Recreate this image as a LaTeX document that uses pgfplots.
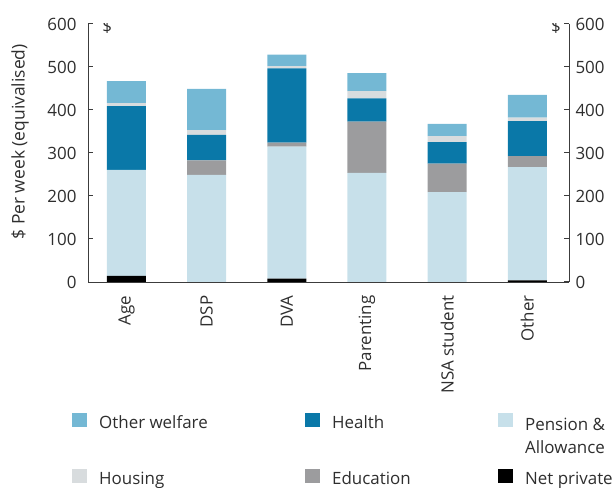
\documentclass[border=0pt]{standalone}
\usepackage{pgfplots}
\usepackage{pgfplotstable}
\pgfplotsset{compat=1.18}
\usepackage{fontspec}
\setmainfont{Open Sans}
\definecolor{cOther}{HTML}{74B8D4}
\definecolor{cHealth}{HTML}{0A78A8}
\definecolor{cPension}{HTML}{C7E0EA}
\definecolor{cHousing}{HTML}{D8DCDE}
\definecolor{cEdu}{HTML}{9C9C9E}
\definecolor{cNet}{HTML}{000000}
\definecolor{cAxis}{HTML}{3C3C3C}
\definecolor{cText}{HTML}{2E2E2E}

% x: 0 Age, 1 DSP, 2 DVA, 3 Parenting, 4 NSA student, 5 Other
\pgfplotstableread{
x net pension edu health housing other
0 14 247 0 148 7 51
1 0 249 34 59 11 96
2 8 307 9 173 5 27
3 0 254 119 54 17 42
4 0 209 66 50 14 29
5 4 263 26 81 8 53
}\data

\newcommand{\fs}{\fontsize{17}{23}\selectfont}

\pgfplotsset{
  sq/.style={legend image code/.code={\fill[##1, draw=none] (0bp,-4bp) rectangle (15bp,10bp);}},
  common/.style={
    at={(88bp,206bp)}, anchor=south west,
    scale only axis, width=481bp, height=258bp,
    xmin=-0.48, xmax=5.52, ymin=0, ymax=600,
    ytick={0,100,...,600},
    tick align=inside,
    major tick length=5bp,
    axis line style={cAxis, line width=1bp},
    every tick/.style={cAxis, line width=1bp},
    tick label style={font=\fs, text=cText},
    /pgf/number format/assume math mode=true,
  }
}

\begin{document}
\begin{tikzpicture}
\path[use as bounding box] (0,0) rectangle (615bp,488bp);
\begin{axis}[
  common,
  ybar stacked, bar width=39bp,
  axis x line*=bottom, axis y line*=left,
  xtick={0,...,5},
  xticklabels={Age,DSP,DVA,Parenting,NSA student,Other},
  xticklabel style={rotate=90, anchor=east},
  xticklabel shift=10bp,
  yticklabel style={xshift=-8bp},
  major x tick style={draw=none},
  ylabel={\$ Per week (equivalised)},
  every axis y label/.style={at={(axis description cs:-0.141,0.543)}, rotate=90, anchor=center, font=\fontsize{17.5}{21}\selectfont, text=cText},
  legend columns=3,
  legend style={at={(axis description cs:-0.0395,-0.4964)}, anchor=north west,
    draw=none, fill=none, font=\fs, text=cText, row sep=35bp,
    /tikz/every odd column/.append style={column sep=10bp},
    /tikz/every even column/.append style={column sep=0bp}},
  legend cell align=left,
]
\addlegendimage{sq, fill=cOther}
\addlegendentry{\makebox[204bp][l]{Other welfare}}
\addlegendimage{sq, fill=cHealth}
\addlegendentry{\makebox[164bp][l]{Health}}
\addlegendimage{sq, fill=cPension}
\addlegendentry{\raisebox{0pt}[\height][0pt]{\begin{tabular}[t]{@{}l@{}}Pension \&\\Allowance\end{tabular}}}
\addlegendimage{sq, fill=cHousing}
\addlegendentry{Housing}
\addlegendimage{sq, fill=cEdu}
\addlegendentry{Education}
\addlegendimage{sq, fill=cNet}
\addlegendentry{Net private}

\addplot[forget plot, fill=cNet, draw=none] table[x=x, y=net] {\data};
\addplot[forget plot, fill=cPension, draw=none] table[x=x, y=pension] {\data};
\addplot[forget plot, fill=cEdu, draw=none] table[x=x, y=edu] {\data};
\addplot[forget plot, fill=cHealth, draw=none] table[x=x, y=health] {\data};
\addplot[forget plot, fill=cHousing, draw=none] table[x=x, y=housing] {\data};
\addplot[forget plot, fill=cOther, draw=none] table[x=x, y=other] {\data};

\node[font=\fs, text=cText] at (rel axis cs:0.04,0.99) {\$};
\node[font=\fs, text=cText] at (rel axis cs:0.973,0.99) {\$};
\end{axis}
\begin{axis}[
  common,
  axis x line=none, axis y line*=right,
  yticklabel style={xshift=3bp},
]
\addplot[draw=none, forget plot] coordinates {(0,0)};
\end{axis}
\end{tikzpicture}
\end{document}
